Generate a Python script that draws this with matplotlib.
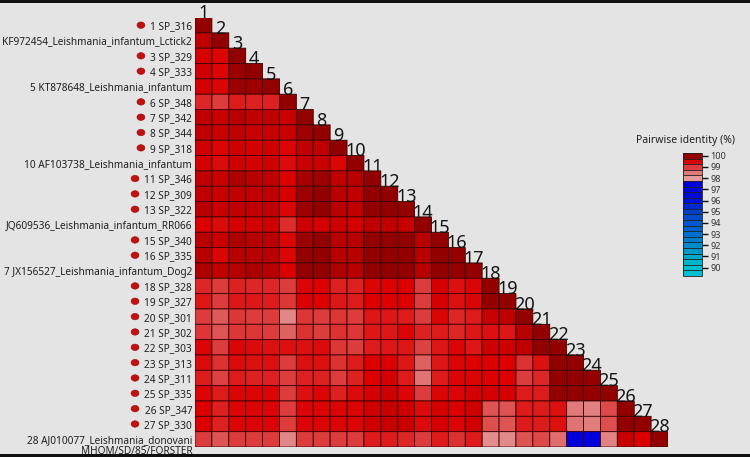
"""Pairwise identity triangle, sequences 1-28."""
import numpy as np
import matplotlib
matplotlib.use("Agg")
import matplotlib.pyplot as plt
from matplotlib.colors import LinearSegmentedColormap, Normalize
from matplotlib.patches import Ellipse, Rectangle

LABELS = [
    "1 SP_316", "KF972454_Leishmania_infantum_Lctick2", "3 SP_329", "4 SP_333",
    "5 KT878648_Leishmania_infantum", "6 SP_348", "7 SP_342", "8 SP_344", "9 SP_318",
    "10 AF103738_Leishmania_infantum", "11 SP_346", "12 SP_309", "13 SP_322",
    "JQ609536_Leishmania_infantum_RR066", "15 SP_340", "16 SP_335",
    "7 JX156527_Leishmania_infantum_Dog2", "18 SP_328", "19 SP_327", "20 SP_301",
    "21 SP_302", "22 SP_303", "23 SP_313", "24 SP_311", "25 SP_335", "26 SP_347",
    "27 SP_330", "28 AJ010077_Leishmania_donovani",
]
LAST_LINE = "MHOM/SD/85/FORSTER"
SP_ROWS = [1, 3, 4, 6, 7, 8, 9, 11, 12, 13, 15, 16, 18, 19, 20, 21, 22, 23, 24, 25, 26, 27]

R1 = [100]
R2 = [99.75, 100]
R3 = [99.6, 99.5, 100]
R4 = [99.65, 99.5, 99.95, 100]
R5 = [99.6, 99.5, 99.95, 99.95, 100]
R6 = [99.2, 99.0, 99.3, 99.25, 99.25, 100]
R7 = [99.75, 99.7, 99.8, 99.75, 99.75, 99.7, 100]
R8 = [99.75, 99.7, 99.75, 99.7, 99.7, 99.7, 99.95, 100]
R9 = [99.65, 99.5, 99.65, 99.6, 99.65, 99.5, 99.75, 99.75, 100]
R10 = [99.6, 99.45, 99.65, 99.6, 99.65, 99.45, 99.7, 99.7, 99.5, 100]
R11 = [99.75, 99.7, 99.85, 99.8, 99.75, 99.55, 99.9, 99.95, 99.75, 99.8, 100]
R12 = [99.75, 99.7, 99.75, 99.75, 99.75, 99.6, 99.95, 100, 99.8, 99.75, 100, 100]
R13 = [99.8, 99.7, 99.75, 99.75, 99.75, 99.5, 99.95, 100, 99.8, 99.75, 100, 100, 100]
R14 = [99.55, 99.45, 99.6, 99.6, 99.65, 99.15, 99.65, 99.6, 99.65, 99.6, 99.75, 99.75, 99.7, 100]
R15 = [99.8, 99.7, 99.85, 99.8, 99.8, 99.5, 99.95, 100, 99.8, 99.8, 100, 100, 100, 99.8, 100]
R16 = [99.8, 99.5, 99.8, 99.8, 99.8, 99.5, 100, 100, 99.8, 99.8, 100, 100, 100, 99.8, 100, 100]
R17 = [99.85, 99.75, 99.8, 99.85, 99.8, 99.55, 100, 100, 99.85, 99.8, 100, 100, 100, 99.8, 100, 100, 100]
R18 = [99.2, 99.0, 99.25, 99.2, 99.2, 99.0, 99.5, 99.55, 99.25, 99.25, 99.5, 99.55, 99.55, 99.0,
       99.6, 99.4, 99.5, 100]
R19 = [99.35, 99.0, 99.35, 99.35, 99.3, 99.05, 99.55, 99.55, 99.35, 99.3, 99.55, 99.55, 99.55, 99.0,
       99.6, 99.4, 99.5, 100, 100]
R20 = [99.0, 98.75, 99.05, 99.0, 99.0, 98.3, 99.05, 99.0, 99.05, 99.0, 99.35, 99.35, 99.3, 99.0,
       99.5, 99.2, 99.3, 99.7, 99.75, 100]
R21 = [99.05, 98.8, 99.05, 99.05, 99.0, 98.7, 99.1, 99.0, 99.1, 99.05, 99.35, 99.35, 99.5, 99.25,
       99.3, 99.2, 99.35, 99.4, 99.35, 99.8, 100]
R22 = [99.5, 99.0, 99.5, 99.45, 99.4, 99.4, 99.4, 99.45, 99.05, 99.0, 99.3, 99.35, 99.35, 98.95,
       99.35, 99.5, 99.35, 99.65, 99.65, 99.75, 100, 100]
R23 = [99.45, 99.1, 99.45, 99.4, 99.4, 99.0, 99.4, 99.4, 99.1, 99.3, 99.55, 99.55, 99.35, 98.7,
       99.35, 99.5, 99.55, 99.55, 99.55, 99.1, 99.4, 100, 100]
R24 = [99.3, 98.95, 99.3, 99.25, 99.25, 99.0, 99.25, 99.25, 99.0, 99.25, 99.55, 99.6, 99.3, 98.55,
       99.3, 99.5, 99.5, 99.55, 99.55, 99.0, 99.2, 100, 100, 100]
R25 = [99.5, 99.3, 99.5, 99.5, 99.5, 99.0, 99.4, 99.5, 99.25, 99.45, 99.6, 99.65, 99.5, 99.0,
       99.5, 99.5, 99.6, 99.6, 99.6, 99.3, 99.3, 100, 100, 100, 100]
R26 = [99.55, 99.25, 99.5, 99.5, 99.5, 99.0, 99.5, 99.5, 99.5, 99.5, 99.65, 99.7, 99.65, 99.45,
       99.6, 99.55, 99.65, 98.8, 98.8, 99.3, 99.3, 99.4, 98.5, 98.4, 98.9, 100]
R27 = [99.55, 99.25, 99.5, 99.5, 99.5, 99.0, 99.5, 99.5, 99.5, 99.5, 99.65, 99.7, 99.7, 99.45,
       99.6, 99.5, 99.65, 98.85, 98.8, 99.3, 99.3, 99.4, 98.55, 98.45, 98.85, 100, 100]
R28 = [99.0, 98.8, 99.0, 99.0, 99.0, 98.3, 99.0, 99.0, 99.0, 99.0, 99.3, 99.3, 99.2, 99.0,
       99.3, 99.1, 99.3, 98.2, 98.25, 98.8, 98.9, 98.6, 97.5, 97.5, 98.35, 99.7, 99.55, 100]
ROWS = [R1, R2, R3, R4, R5, R6, R7, R8, R9, R10, R11, R12, R13, R14,
        R15, R16, R17, R18, R19, R20, R21, R22, R23, R24, R25, R26, R27, R28]

BAR_TICKS = [100, 99, 98, 97, 96, 95, 94, 93, 92, 91, 90]

# identity -> colour, red above 98 and blue below, with a hard break at 98
NODES = [
    (90.0, "#00c0d0"), (91.0, "#00a8c8"), (93.0, "#0070d0"), (95.0, "#0040c8"),
    (96.0, "#0010d8"), (97.5, "#0000dc"), (97.99, "#0000e0"),
    (98.0, "#e59a9a"), (98.5, "#e07a7a"), (99.0, "#dc3c3c"), (99.3, "#dd1c1c"),
    (99.55, "#dc0000"), (99.7, "#ca0000"), (99.85, "#b00000"), (100.0, "#920000"),
]
cmap = LinearSegmentedColormap.from_list(
    "identity", [((v - 90) / 10, c) for v, c in NODES], N=1024)
norm = Normalize(90, 100)

W, H = 750, 457
BG = "#e4e4e4"
EDGE = "#3a0000"
FONT = "Noto Sans"

fig = plt.figure(figsize=(W / 100, H / 100), dpi=100, facecolor=BG)
plt.rcParams["font.family"] = FONT

n = len(ROWS)
matrix = np.full((n, n), np.nan)
for i, row in enumerate(ROWS):
    matrix[i, :len(row)] = row

ax = fig.add_axes([195 / W, 1 - 447 / H, 473 / W, 429.5 / H])
ax.set_facecolor(BG)
edges = np.arange(n + 1)
# pcolor, not pcolormesh: masked cells must not get edges
mesh = ax.pcolor(edges, edges, np.ma.masked_invalid(matrix), cmap=cmap, norm=norm,
                 edgecolors=EDGE, linewidth=0.6)
ax.set_xlim(0, n)
ax.set_ylim(n, 0)
ax.set_xticks([])
ax.set_yticks(np.arange(n) + 0.5)
ax.set_yticklabels(LABELS, fontsize=7.25, color="#202020", family=FONT)
ax.tick_params(axis="y", length=0, pad=2)
for s in ax.spines.values():
    s.set_visible(False)

# sequence numbers along the diagonal
for i in range(n):
    ax.text(i + 0.5, i + 0.05, str(i + 1), ha="center", va="baseline",
            fontsize=13, color="#151515", family=FONT, clip_on=False)

ax.text(-0.15, n + 0.27, LAST_LINE, ha="right", va="center", fontsize=7.25,
        color="#202020", family=FONT, clip_on=False)

# red dots in front of the SP_ labels
for r in SP_ROWS:
    dot_x = -3.2 if r < 10 else -3.55
    ax.add_patch(Ellipse((dot_x, r - 0.5), 0.47, 0.42, facecolor="#c01010",
                         edgecolor="#a00808", lw=0.4, clip_on=False))

# legend bar
cax = fig.add_axes([683 / W, 1 - 276 / H, 19 / W, 123 / H])
cb = fig.colorbar(mesh, cax=cax, boundaries=np.arange(89.25, 100.5, 0.5), ticks=BAR_TICKS,
                  spacing="proportional", drawedges=True)
cb.dividers.set_color("#202020")
cb.dividers.set_linewidth(0.6)
cb.outline.set_edgecolor("#202020")
cb.outline.set_linewidth(0.6)
cax.set_yticklabels([str(t) for t in BAR_TICKS], fontsize=6.5, color="#333333", family=FONT)
cax.tick_params(axis="y", length=4, width=1, color="#101010", pad=2)
fig.text(686 / W, 1 - 140 / H, "Pairwise identity (%)", ha="center", va="center",
         fontsize=7.5, color="#202020", family=FONT)

# dark frame bits at the top and bottom of the image
fig.add_artist(Rectangle((0, 1 - 3 / H), 1, 3 / H, transform=fig.transFigure,
                         color="#101010", lw=0))
fig.add_artist(Rectangle((0, 0), 1, 3 / H, transform=fig.transFigure,
                         color="#101010", lw=0))

fig.savefig("out.png", dpi=100, facecolor=BG)
plt.close()
